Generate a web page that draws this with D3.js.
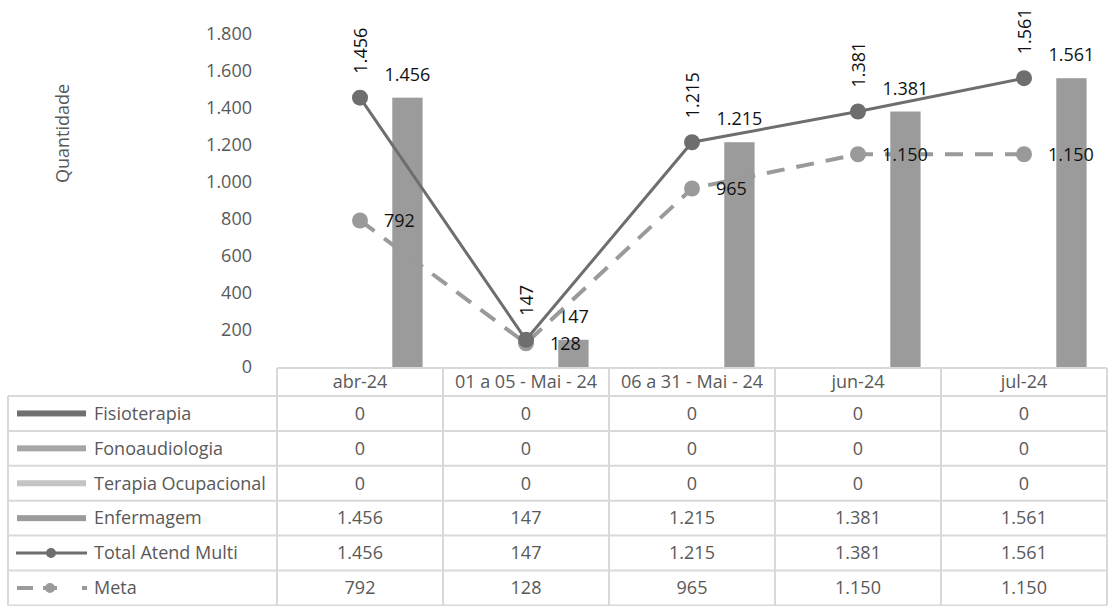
<!DOCTYPE html>
<html>
<head>
<meta charset="utf-8">
<script src="https://cdn.jsdelivr.net/npm/d3@7/dist/d3.min.js"></script>
<style>
  html, body { margin: 0; padding: 0; background: #ffffff; }
  svg { display: block; font-family: "Open Sans", sans-serif; }
</style>
</head>
<body>
<svg id="chart" width="1110" height="606"></svg>
<script>
// ---------- data ----------
const categories = ["abr-24", "01 a 05 - Mai - 24", "06 a 31 - Mai - 24", "jun-24", "jul-24"];
const fisioterapia = [0, 0, 0, 0, 0];
const fonoaudiologia = [0, 0, 0, 0, 0];
const terapiaOcupacional = [0, 0, 0, 0, 0];
const enfermagem = [1456, 147, 1215, 1381, 1561];
const totalAtendMulti = [1456, 147, 1215, 1381, 1561];
const meta = [792, 128, 965, 1150, 1150];
const yTicks = [0, 200, 400, 600, 800, 1000, 1200, 1400, 1600, 1800];
const yTitle = "Quantidade";
const barSeriesNames = ["Fisioterapia", "Fonoaudiologia", "Terapia Ocupacional", "Enfermagem"];
const lineSeriesNames = ["Total Atend Multi", "Meta"];

// ---------- setup ----------
const locale = d3.formatLocale({ decimal: ",", thousands: ".", grouping: [3], currency: ["R$", ""] });
const fmt = locale.format(",d");

const svg = d3.select("#chart");

const plotLeft = 277, plotRight = 1107, plotTop = 34, plotBottom = 367;

const x = d3.scaleBand().domain(categories).range([plotLeft, plotRight]).paddingInner(0).paddingOuter(0);
const y = d3.scaleLinear().domain([0, 1800]).range([plotBottom, plotTop]);
const xInner = d3.scaleBand().domain(barSeriesNames).range([0, x.bandwidth()]).paddingInner(0).paddingOuter(0.74);

const barColors = { "Fisioterapia": "#707070", "Fonoaudiologia": "#a6a6a6", "Terapia Ocupacional": "#c4c4c4", "Enfermagem": "#9b9b9b" };
const totalColor = "#6e6e6e";
const metaColor = "#9a9a9a";
const textGray = "#595959";
const borderColor = "#d9d9d9";

const barSeries = [
  { name: "Fisioterapia", values: fisioterapia },
  { name: "Fonoaudiologia", values: fonoaudiologia },
  { name: "Terapia Ocupacional", values: terapiaOcupacional },
  { name: "Enfermagem", values: enfermagem }
];

// ---------- y axis ----------
const yAxis = svg.append("g").attr("transform", `translate(${plotLeft - 25},0)`)
  .call(d3.axisLeft(y).tickValues(yTicks).tickFormat(fmt).tickSize(0).tickPadding(0));
yAxis.select(".domain").remove();
yAxis.selectAll("text").attr("fill", textGray).style("font-size", "18px").style("font-family", "'Open Sans', sans-serif");

svg.append("text")
  .attr("transform", `translate(69,${(84 + 183) / 2}) rotate(-90)`)
  .attr("text-anchor", "middle")
  .attr("fill", textGray)
  .style("font-size", "18px")
  .text(yTitle);

// ---------- bars ----------
barSeries.forEach(s => {
  svg.append("g").selectAll("rect")
    .data(categories.map((c, i) => ({ c, v: s.values[i] })))
    .join("rect")
    .attr("x", d => x(d.c) + xInner(s.name) + 2)
    .attr("width", xInner.bandwidth())
    .attr("y", d => y(d.v))
    .attr("height", d => y(0) - y(d.v))
    .attr("fill", barColors[s.name]);
});

// bar labels (Enfermagem)
svg.append("g").selectAll("text")
  .data(categories.map((c, i) => ({ c, v: enfermagem[i] })))
  .join("text")
  .attr("x", d => x(d.c) + xInner("Enfermagem") + 2 + xInner.bandwidth() / 2)
  .attr("y", d => y(d.v) - 17)
  .attr("text-anchor", "middle")
  .attr("fill", "#111")
  .style("font-size", "18px")
  .text(d => fmt(d.v));

// ---------- lines ----------
const cx = c => x(c) + x.bandwidth() / 2;

const metaData = categories.map((c, i) => ({ c, v: meta[i] }));
const totalData = categories.map((c, i) => ({ c, v: totalAtendMulti[i] }));

const lineGen = d3.line().x(d => cx(d.c)).y(d => y(d.v));

svg.append("path").datum(metaData)
  .attr("d", lineGen)
  .attr("fill", "none")
  .attr("stroke", metaColor)
  .attr("stroke-width", 4)
  .attr("stroke-dasharray", "18 12");

svg.append("g").selectAll("circle").data(metaData).join("circle")
  .attr("cx", d => cx(d.c)).attr("cy", d => y(d.v)).attr("r", 8)
  .attr("fill", metaColor);

svg.append("path").datum(totalData)
  .attr("d", lineGen)
  .attr("fill", "none")
  .attr("stroke", totalColor)
  .attr("stroke-width", 3);

svg.append("g").selectAll("circle").data(totalData).join("circle")
  .attr("cx", d => cx(d.c)).attr("cy", d => y(d.v)).attr("r", 8)
  .attr("fill", totalColor);

// meta labels
svg.append("g").selectAll("text").data(metaData).join("text")
  .attr("x", d => cx(d.c) + 24)
  .attr("y", d => y(d.v))
  .attr("dy", "0.35em")
  .attr("fill", "#111")
  .style("font-size", "18px")
  .text(d => fmt(d.v));

// total labels (rotated)
svg.append("g").selectAll("text").data(totalData).join("text")
  .attr("transform", d => `translate(${cx(d.c) + 1},${y(d.v) - 24}) rotate(-90)`)
  .attr("dy", "0.35em")
  .attr("text-anchor", "start")
  .attr("fill", "#111")
  .style("font-size", "18px")
  .text(d => fmt(d.v));

// ---------- data table ----------
const tableLeft = 8, tableRight = plotRight;
const headerTop = 368, headerBottom = 396;
const rowH = 34.9;
const rows = [
  { name: "Fisioterapia", values: fisioterapia, type: "bar" },
  { name: "Fonoaudiologia", values: fonoaudiologia, type: "bar" },
  { name: "Terapia Ocupacional", values: terapiaOcupacional, type: "bar" },
  { name: "Enfermagem", values: enfermagem, type: "bar" },
  { name: "Total Atend Multi", values: totalAtendMulti, type: "line" },
  { name: "Meta", values: meta, type: "dash" }
];
const tableBottom = headerBottom + rowH * rows.length;

const tbl = svg.append("g");
tbl.append("line").attr("x1", plotLeft).attr("x2", tableRight).attr("y1", headerTop).attr("y2", headerTop);
rows.forEach((r, i) => {
  tbl.append("line").attr("x1", tableLeft).attr("x2", tableRight)
    .attr("y1", headerBottom + rowH * i).attr("y2", headerBottom + rowH * i);
});
tbl.append("line").attr("x1", tableLeft).attr("x2", tableRight).attr("y1", tableBottom).attr("y2", tableBottom);
tbl.append("line").attr("x1", tableLeft).attr("x2", tableLeft).attr("y1", headerBottom).attr("y2", tableBottom);
categories.forEach(c => {
  tbl.append("line").attr("x1", x(c)).attr("x2", x(c)).attr("y1", headerTop).attr("y2", tableBottom);
});
tbl.append("line").attr("x1", tableRight).attr("x2", tableRight).attr("y1", headerTop).attr("y2", tableBottom);
tbl.selectAll("line").attr("stroke", borderColor).attr("stroke-width", 2);

tbl.append("g").selectAll("text").data(categories).join("text")
  .attr("x", c => cx(c)).attr("y", (headerTop + headerBottom) / 2).attr("dy", "0.35em")
  .attr("text-anchor", "middle").attr("fill", textGray).style("font-size", "18px")
  .text(c => c);

rows.forEach((r, i) => {
  const cy = headerBottom + rowH * i + rowH / 2;
  if (r.type === "bar") {
    tbl.append("rect").attr("x", 17).attr("y", cy - 3).attr("width", 69).attr("height", 6)
      .attr("fill", barColors[r.name]);
  } else if (r.type === "line") {
    tbl.append("line").attr("x1", 16).attr("x2", 87).attr("y1", cy).attr("y2", cy)
      .attr("stroke", totalColor).attr("stroke-width", 3);
    tbl.append("circle").attr("cx", 51).attr("cy", cy).attr("r", 5).attr("fill", totalColor);
  } else {
    tbl.append("line").attr("x1", 17).attr("x2", 87).attr("y1", cy).attr("y2", cy)
      .attr("stroke", metaColor).attr("stroke-width", 4).attr("stroke-dasharray", "16 10 14 25 5");
    tbl.append("circle").attr("cx", 50).attr("cy", cy).attr("r", 5).attr("fill", metaColor);
  }
  tbl.append("text").attr("x", 94).attr("y", cy).attr("dy", "0.35em")
    .attr("fill", textGray).style("font-size", "18px").text(r.name);
  tbl.append("g").selectAll("text").data(categories.map((c, j) => ({ c, v: r.values[j] }))).join("text")
    .attr("x", d => cx(d.c)).attr("y", cy).attr("dy", "0.35em")
    .attr("text-anchor", "middle").attr("fill", textGray).style("font-size", "18px")
    .text(d => fmt(d.v));
});
</script>
</body>
</html>
